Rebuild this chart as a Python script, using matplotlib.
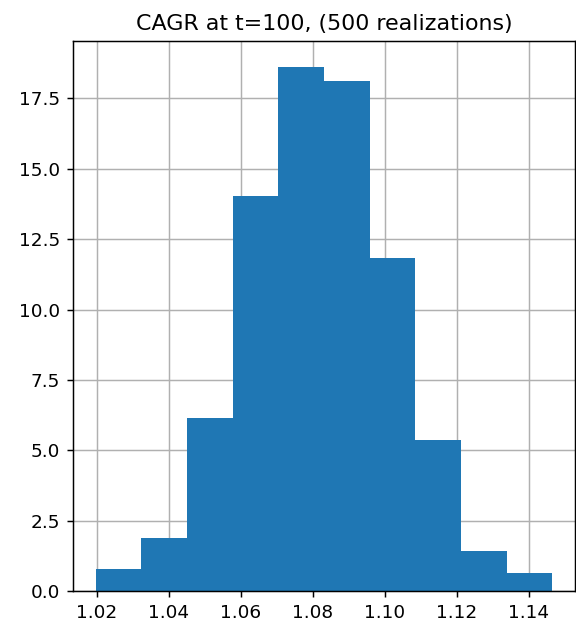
import numpy as np
import matplotlib.pyplot as plt

# histogram: bin edges and counts (500 realizations)
bin_lo = 1.0198
bin_hi = 1.1466
n_bins = 10
counts = [5, 12, 39, 89, 118, 115, 75, 34, 9, 4]

edges = np.linspace(bin_lo, bin_hi, n_bins + 1)
centers = (edges[:-1] + edges[1:]) / 2

dpi = 133
fig, ax = plt.subplots(figsize=(576 / dpi, 627 / dpi), dpi=dpi)
fig.subplots_adjust(left=0.1267, right=0.9988, bottom=0.0574, top=0.9346)

ax.hist(centers, bins=edges, weights=counts, density=True, color="#1f77b4")
ax.grid(True)
ax.set_axisbelow(True)
ax.set_title("CAGR at t=100, (500 realizations)")

fig.savefig("out.png", dpi=dpi)
